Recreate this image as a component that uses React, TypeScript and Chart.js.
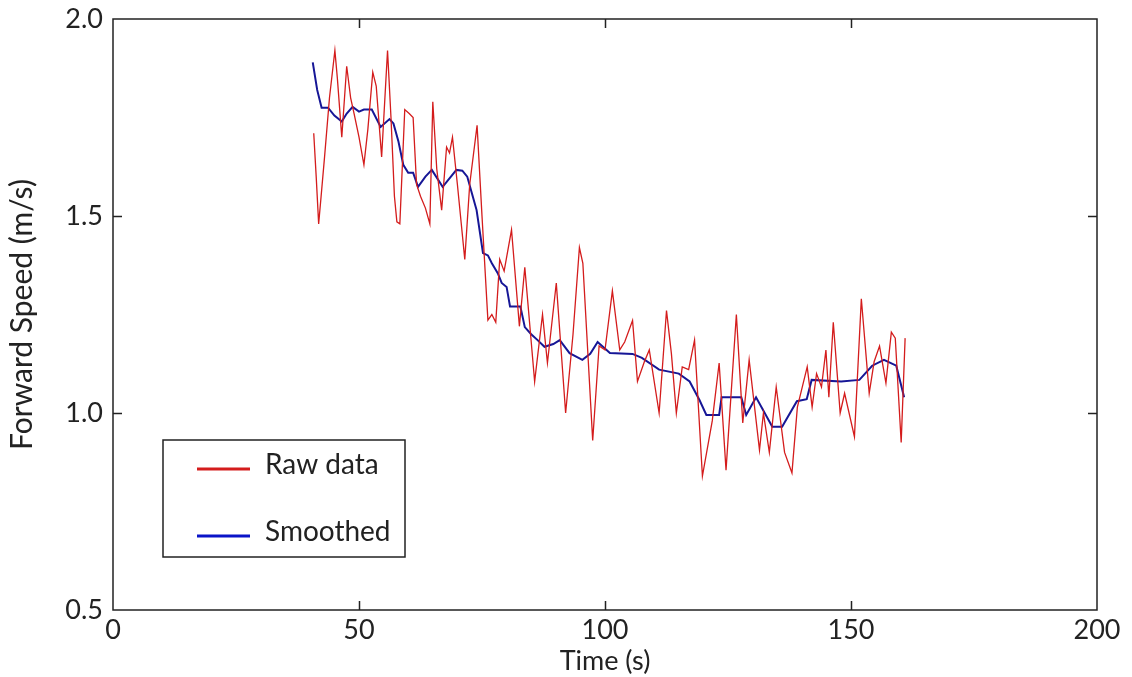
import React, { useEffect, useRef } from "react";
import { Chart, registerables } from "chart.js";

Chart.register(...registerables);

// Raw forward speed samples (time in s, speed in m/s)
const rawTime = [
  40.8, 41.3, 41.8, 42.3, 43.0, 44.0, 45.1, 45.6, 46.5, 47.5, 48.3, 49.0, 50.0, 51.0, 51.8, 52.8, 53.5, 54.6,
  55.8, 56.5, 57.2, 57.7, 58.3, 59.3, 60.2, 61.0, 61.7, 62.5, 63.5, 64.4, 65.0, 65.8, 66.8, 67.8, 68.4, 69.0,
  70.0, 71.5, 72.5, 74.0, 75.0, 76.2, 77.0, 77.8, 78.6, 79.5, 81.0, 82.6, 83.7, 85.7, 87.3, 88.3, 90.1, 92.0,
  93.5, 94.8, 95.5, 97.5, 98.8, 100.0, 101.5, 103.0, 104.0, 105.6, 106.6, 108.0, 109.0, 111.0, 112.5, 113.5,
  114.5, 115.7, 117.0, 118.2, 119.8, 121.8, 123.2, 124.6, 126.7, 128.0, 129.3, 131.4, 132.2, 133.4, 134.8,
  136.5, 138.0, 139.1, 141.1, 142.1, 143.0, 144.0, 144.9, 145.5, 146.4, 147.8, 148.7, 150.7, 152.1, 153.7,
  154.7, 155.8, 157.1, 158.2, 159.0, 160.2, 161.0,
];
const rawSpeed = [
  1.71, 1.6, 1.48, 1.55, 1.65, 1.8, 1.92, 1.85, 1.7, 1.88, 1.8, 1.76, 1.7, 1.63, 1.72, 1.865, 1.83, 1.65,
  1.92, 1.75, 1.55, 1.485, 1.48, 1.77, 1.76, 1.75, 1.58, 1.55, 1.52, 1.48, 1.79, 1.62, 1.515, 1.675, 1.66, 1.7,
  1.58, 1.39, 1.58, 1.73, 1.5, 1.236, 1.25, 1.23, 1.39, 1.36, 1.465, 1.22, 1.37, 1.08, 1.25, 1.127, 1.33, 1.0,
  1.2, 1.42, 1.38, 0.93, 1.17, 1.16, 1.31, 1.16, 1.18, 1.235, 1.08, 1.13, 1.16, 1.0, 1.26, 1.15,
  1.0, 1.117, 1.11, 1.185, 0.84, 0.98, 1.127, 0.855, 1.25, 0.975, 1.135, 0.906, 1.0, 0.9, 1.066,
  0.9, 0.848, 1.015, 1.117, 1.015, 1.1, 1.066, 1.16, 1.04, 1.23, 1.0, 1.05, 0.94, 1.29, 1.05,
  1.13, 1.17, 1.076, 1.205, 1.19, 0.925, 1.19,
];

// Smoothed forward speed
const smoothTime = [
  40.6, 41.5, 42.4, 43.7, 45.0, 46.5, 47.5, 48.7, 50.0, 51.0, 52.6, 54.4, 56.2, 57.0, 58.0, 59.0, 60.0, 61.0,
  62.0, 63.5, 64.8, 67.0, 69.8, 71.0, 72.0, 73.0, 73.9, 75.2, 76.2, 77.0, 78.2, 79.0, 80.0, 80.7, 82.8, 83.7,
  85.0, 86.3, 87.7, 89.5, 90.8, 92.8, 95.4, 97.0, 98.5, 101.0, 105.6, 107.5, 111.0, 115.0, 117.2, 119.2,
  120.6, 123.2, 123.7, 127.7, 128.7, 130.7, 134.0, 136.0, 139.0, 141.0, 142.0, 148.0, 151.7, 154.3, 156.7,
  159.2, 160.8,
];
const smoothSpeed = [
  1.89, 1.82, 1.775, 1.775, 1.755, 1.74, 1.76, 1.777, 1.765, 1.77, 1.77, 1.726, 1.746, 1.735, 1.69, 1.63, 1.61, 1.61,
  1.574, 1.6, 1.617, 1.574, 1.617, 1.615, 1.6, 1.555, 1.515, 1.406, 1.4, 1.38, 1.355, 1.33, 1.32, 1.27, 1.27, 1.218,
  1.2, 1.185, 1.168, 1.175, 1.185, 1.152, 1.135, 1.15, 1.18, 1.152, 1.15, 1.14, 1.11, 1.1, 1.08, 1.033,
  0.995, 0.995, 1.04, 1.04, 0.995, 1.04, 0.965, 0.965, 1.03, 1.035, 1.084, 1.08, 1.084, 1.12, 1.135,
  1.12, 1.04,
];

const xTickValues = [0, 50, 100, 150, 200];
const yTickValues = [0.5, 1.0, 1.5, 2.0];

const FONT = "Lato, 'DejaVu Sans', sans-serif";
const RED = "rgb(212, 28, 28)";
const BLUE = "rgb(22, 22, 150)";
const LEGEND_BLUE = "rgb(10, 20, 200)";

const framePlugin = {
  id: "frame",
  afterDraw(chart: any) {
    const { ctx, chartArea: a, scales } = chart;
    ctx.save();
    ctx.strokeStyle = "#222";
    ctx.lineWidth = 1.5;
    ctx.strokeRect(a.left, a.top, a.right - a.left, a.bottom - a.top);
    const L = 9;
    ctx.beginPath();
    xTickValues.forEach((v) => {
      if (v === 0 || v === 200) return;
      const px = Math.round(scales.x.getPixelForValue(v)) + 0.5;
      ctx.moveTo(px, a.bottom);
      ctx.lineTo(px, a.bottom - L);
      ctx.moveTo(px, a.top);
      ctx.lineTo(px, a.top + L);
    });
    yTickValues.forEach((v) => {
      if (v === 0.5 || v === 2.0) return;
      const py = Math.round(scales.y.getPixelForValue(v)) + 0.5;
      ctx.moveTo(a.left, py);
      ctx.lineTo(a.left + L, py);
      ctx.moveTo(a.right, py);
      ctx.lineTo(a.right - L, py);
    });
    ctx.stroke();

    // legend box
    const bx = 163, by = 440, bw = 242, bh = 117;
    ctx.fillStyle = "#fff";
    ctx.fillRect(bx, by, bw, bh);
    ctx.lineWidth = 1.5;
    ctx.strokeStyle = "#222";
    ctx.strokeRect(bx, by, bw, bh);
    const ds = chart.data.datasets;
    const rows = [
      { y: 469, color: RED },
      { y: 536, color: LEGEND_BLUE },
    ];
    ctx.font = `28px ${FONT}`;
    ctx.textBaseline = "middle";
    ctx.textAlign = "left";
    rows.forEach((r, i) => {
      ctx.strokeStyle = r.color;
      ctx.lineWidth = 3;
      ctx.beginPath();
      ctx.moveTo(197, r.y);
      ctx.lineTo(250, r.y);
      ctx.stroke();
      ctx.fillStyle = "#222";
      ctx.fillText(ds[i].label, 265, r.y - 4);
    });
    ctx.restore();
  },
};

export default function App() {
  const ref = useRef<HTMLCanvasElement>(null);
  useEffect(() => {
    document.body.style.margin = "0";
    const chart = new Chart(ref.current!, {
      type: "line",
      data: {
        datasets: [
          {
            label: "Raw data",
            data: rawTime.map((t, i) => ({ x: t, y: rawSpeed[i] })),
            borderColor: RED,
            borderWidth: 1.3,
            pointRadius: 0,
            tension: 0,
          },
          {
            label: "Smoothed",
            data: smoothTime.map((t, i) => ({ x: t, y: smoothSpeed[i] })),
            borderColor: BLUE,
            borderWidth: 2,
            pointRadius: 0,
            tension: 0,
          },
        ],
      },
      options: {
        responsive: false,
        animation: false,
        layout: { padding: { left: 0, right: 35, top: 19, bottom: 0 } },
        plugins: { legend: { display: false }, tooltip: { enabled: false } },
        scales: {
          x: {
            type: "linear",
            min: 0,
            max: 200,
            afterFit: (s: any) => {
              s.height = 67;
              s.paddingLeft = 0;
              s.paddingRight = 0;
            },
            afterBuildTicks: (s: any) => {
              s.ticks = xTickValues.map((v) => ({ value: v }));
            },
            grid: { display: false, drawTicks: false },
            border: { display: false },
            ticks: {
              color: "#222",
              padding: 4,
              font: { family: FONT, size: 27 },
              maxRotation: 0,
              callback: (v: any) => String(v),
            },
            title: {
              display: true,
              text: "Time (s)",
              color: "#222",
              font: { family: FONT, size: 27 },
              padding: { top: 0, bottom: 0 },
            },
          },
          y: {
            type: "linear",
            min: 0.5,
            max: 2.0,
            afterFit: (s: any) => {
              s.width = 113;
              s.paddingTop = 0;
              s.paddingBottom = 0;
            },
            afterBuildTicks: (s: any) => {
              s.ticks = yTickValues.map((v) => ({ value: v }));
            },
            grid: { display: false, drawTicks: false },
            border: { display: false },
            ticks: {
              color: "#222",
              padding: 10,
              font: { family: FONT, size: 27 },
              callback: (v: any) => Number(v).toFixed(1),
            },
            title: {
              display: true,
              text: "Forward Speed (m/s)",
              color: "#222",
              font: { family: FONT, size: 30 },
              padding: { top: 4, bottom: 0 },
            },
          },
        },
      },
      plugins: [framePlugin],
    });
    return () => chart.destroy();
  }, []);
  return (
    <div style={{ position: "absolute", left: 0, top: 0, width: 1132, height: 677, background: "#fff" }}>
      <canvas ref={ref} width={1132} height={677} />
    </div>
  );
}
